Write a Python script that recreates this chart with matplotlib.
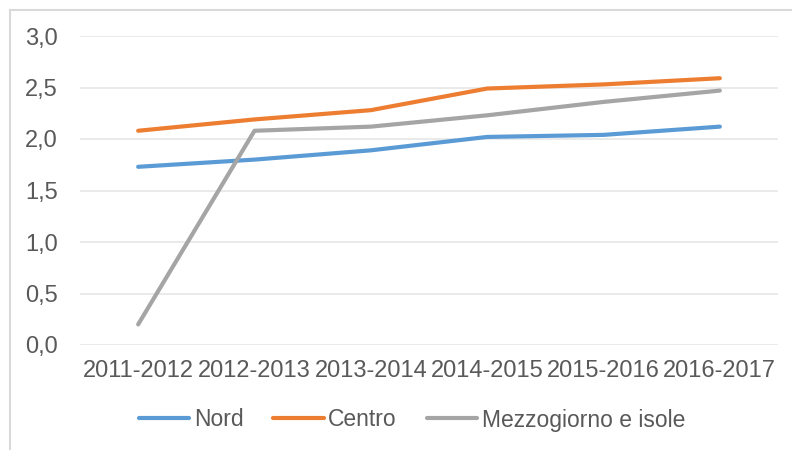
import matplotlib
matplotlib.use("Agg")
import matplotlib.pyplot as plt
from matplotlib.patches import Rectangle

plt.rcParams['font.family'] = ['Liberation Sans', 'DejaVu Sans']

# Data
anni = ['2011-2012', '2012-2013', '2013-2014', '2014-2015', '2015-2016', '2016-2017']
nord = [1.73, 1.80, 1.89, 2.02, 2.04, 2.12]
centro = [2.08, 2.19, 2.28, 2.49, 2.53, 2.59]
mezzogiorno = [0.20, 2.08, 2.12, 2.23, 2.36, 2.47]
y_ticks = [0.0, 0.5, 1.0, 1.5, 2.0, 2.5, 3.0]

text_col = '#595959'
grid_col = '#E6E6E6'

fig = plt.figure(figsize=(7.92, 4.5), dpi=100)

# light border of the original chart frame (cut off on the right/bottom)
fig.patches.append(Rectangle((10 / 792, -0.1), 1.2, 1 - 10 / 450 + 0.1,
                             transform=fig.transFigure, fill=False,
                             edgecolor='#D9D9D9', linewidth=1.5))

ax = fig.add_axes([80 / 792, 1 - 345 / 450, 698 / 792, (345 - 36) / 450])

x = list(range(len(anni)))
ax.plot(x, nord, color='#5B9BD5', lw=3, label='Nord', solid_capstyle='round')
ax.plot(x, centro, color='#ED7D31', lw=3, label='Centro', solid_capstyle='round')
ax.plot(x, mezzogiorno, color='#A5A5A5', lw=3, label='Mezzogiorno e isole',
        solid_capstyle='round')

ax.set_xlim(-0.5, len(anni) - 0.5)
ax.set_ylim(0, 3.0)
ax.set_yticks(y_ticks)
ax.set_yticklabels([f'{v:.1f}'.replace('.', ',') for v in y_ticks])
ax.set_xticks(x)
ax.set_xticklabels(anni)

ax.grid(axis='y', color=grid_col, lw=1.2)
ax.set_axisbelow(True)
for s in ax.spines.values():
    s.set_visible(False)
ax.tick_params(axis='both', length=0, labelsize=17, colors=text_col)
ax.tick_params(axis='x', pad=11)
ax.tick_params(axis='y', pad=16)

fig.legend(loc='center', bbox_to_anchor=(0.52, 1 - 420 / 450), ncol=3,
           frameon=False, fontsize=16.5, labelcolor=text_col,
           handlelength=2.2, handletextpad=0.2, columnspacing=1.3)

fig.savefig('out.png', dpi=100)
